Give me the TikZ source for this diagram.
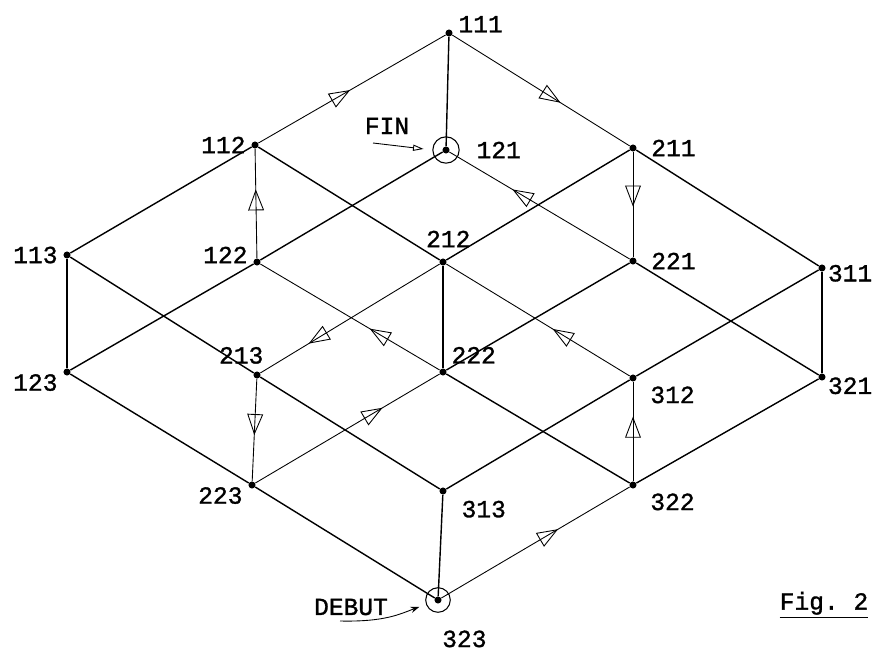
\documentclass[tikz,border=0pt]{standalone}
\usepackage{fontspec}
\setmonofont{Liberation Mono}[FakeBold=1.2]
\usetikzlibrary{arrows.meta,decorations.markings}
\newcommand{\typefont}{\ttfamily\fontsize{14}{16}\selectfont}

\begin{document}
\begin{tikzpicture}[x=0.02cm, y=-0.02cm,
  dot/.style={circle, fill=black, inner sep=0pt, minimum size=4pt},
  ring/.style={circle, draw=black, line width=0.6pt, inner sep=0pt, minimum size=15pt},
  lbl/.style={font=\typefont, inner sep=1pt},
  every label/.style={lbl},
  label distance=2pt,
  gridline/.style={line width=0.8pt},
  flow/.style={line width=0.5pt, postaction={decorate},
    decoration={markings, mark=at position #1 with {\arrow{Triangle[open,length=12pt,width=9pt]}}}},
  flow/.default=0.5,
  pointer/.style={-{Triangle[open,length=6pt,width=3.5pt]}, line width=0.5pt}
]
\useasboundingbox (0,0) rectangle (875,652);

% Top layer (middle digit 1)
\node[dot, label={[yshift=5pt]east:111}]                  (n111) at (449,33)  {};
\node[dot, label={west:112}]                              (n112) at (255,145) {};
\node[dot, label={west:113}]                              (n113) at (67,255)  {};
\node[dot, label={[label distance=7pt]east:211}]          (n211) at (633,148) {};
\node[dot, label={[xshift=3pt,label distance=5pt]north:212}] (n212) at (443,262) {};
\node[dot, label={[xshift=-9pt,label distance=3pt]north:213}] (n213) at (257,375) {};
\node[dot, label={[yshift=-3pt,label distance=0pt]east:311}] (n311) at (822,268) {};
\node[dot, label={[xshift=5pt,label distance=3pt]south east:312}] (n312) at (633,378) {};
\node[dot, label={[xshift=5pt,label distance=4pt]south east:313}] (n313) at (443,491) {};

% Bottom layer (middle digit 2)
\node[dot, label={[label distance=14pt]east:121}]         (n121) at (446,150) {};
\node[dot, label={[yshift=4pt]west:122}]                  (n122) at (257,262) {};
\node[dot, label={[yshift=-6pt]west:123}]                 (n123) at (67,372)  {};
\node[dot, label={[label distance=7pt]east:221}]          (n221) at (633,261) {};
\node[dot, label={[label distance=3pt]north east:222}]    (n222) at (443,372) {};
\node[dot, label={[yshift=-6pt]west:223}]                 (n223) at (252,485) {};
\node[dot, label={[yshift=-5pt,label distance=0pt]east:321}] (n321) at (822,377) {};
\node[dot, label={[xshift=5pt,label distance=3pt]south east:322}] (n322) at (633,485) {};
\node[dot, label={[xshift=15pt,label distance=14pt]south:323}] (n323) at (438,600) {};

% Start and end marks
\node[ring]                    (ring121) at (n121) {};
\node[ring, minimum size=14pt] (ring323) at (n323) {};

% Plain edges
\foreach \p/\q in {112/113, 211/212, 311/312, 312/313, 211/311, 112/212,
                   113/213, 213/313, 121/122, 122/123, 221/222, 321/322,
                   221/321, 222/322, 123/223, 223/323, 111/121, 113/123,
                   212/222, 311/321, 313/323}
  \draw[gridline] (n\p) -- (n\q);

% Route from DEBUT to FIN
\foreach \p/\q/\t in {323/322/0.62, 322/312/0.65, 312/212/0.42, 212/213/0.73,
                      213/223/0.55, 223/222/0.69, 222/122/0.39, 122/112/0.63,
                      112/111/0.49, 111/211/0.61, 211/221/0.52, 221/121/0.65}
  \draw[flow=\t] (n\p) -- (n\q);

% Captions
\node[lbl] (fin)    at (387,126) {FIN};
\node[lbl] (debut)  at (351,607) {DEBUT};
\node[lbl] (figcap) at (824,605) {\underline{Fig. 2}};

\coordinate (fintail)   at (373,143);
\coordinate (debuttail) at (340,621);
\draw[pointer, shorten >=5pt] (fintail) -- (ring121.west);
\draw[-{Stealth[length=5pt,width=3.5pt]}, line width=0.5pt, shorten >=4pt]
  (debuttail) .. controls (385,622) and (400,614) .. (ring323.200);
\end{tikzpicture}
\end{document}
